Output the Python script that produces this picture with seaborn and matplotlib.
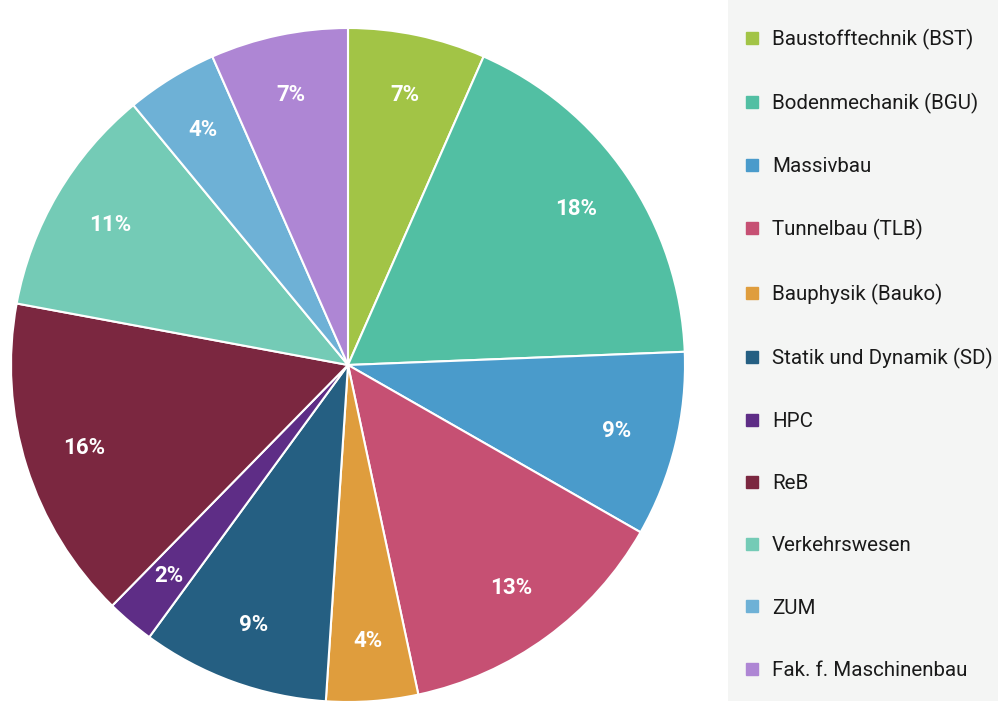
import matplotlib
matplotlib.use("Agg")
import matplotlib.pyplot as plt
import seaborn as sns
from matplotlib.lines import Line2D

sns.set_theme(style="white")
plt.rcParams['font.family'] = ['Roboto', 'DejaVu Sans']

categories = ["Baustofftechnik (BST)", "Bodenmechanik (BGU)", "Massivbau", "Tunnelbau (TLB)",
              "Bauphysik (Bauko)", "Statik und Dynamik (SD)", "HPC", "ReB",
              "Verkehrswesen", "ZUM", "Fak. f. Maschinenbau"]
values = [6.6, 17.8, 8.9, 13.4, 4.4, 9.0, 2.3, 15.6, 11.1, 4.4, 6.6]
colors = ["#a2c446", "#52bfa3", "#4a9bcb", "#c65073", "#df9d3d", "#255f82",
          "#5e2d86", "#7b2740", "#74cbb6", "#6eb1d6", "#ae86d4"]
palette = sns.color_palette(colors)

W, H = 998, 701
fig = plt.figure(figsize=(W / 100, H / 100), dpi=100)
fig.patch.set_facecolor("white")

# legend panel background
lax = fig.add_axes([728 / W, 0, 270 / W, 1])
lax.set_facecolor("#f4f5f4")
lax.set_xticks([]); lax.set_yticks([])
for s in lax.spines.values():
    s.set_visible(False)

ax = fig.add_axes([11 / W, (H - 702) / H, 674 / W, 674 / H])
wedges, texts, autotexts = ax.pie(
    values, colors=palette, startangle=90, counterclock=False,
    autopct=lambda p: f"{p:.0f}%", pctdistance=0.82,
    wedgeprops=dict(edgecolor="white", linewidth=1.5),
    textprops=dict(color="white", fontsize=16, fontweight="bold"))
ax.set_xlim(-1, 1)
ax.set_ylim(-1, 1)
ax.set_aspect("equal")

fs = 14.8
handles = [Line2D([0], [0], marker="s", linestyle="none", markersize=8,
                  markerfacecolor=c, markeredgecolor=c) for c in palette]
leg = fig.legend(handles, categories, loc="upper left",
                 bbox_to_anchor=(743.3 / W, (H - 28.6) / H),
                 bbox_transform=fig.transFigure,
                 frameon=False, fontsize=fs, handlelength=0.8, handletextpad=0.6,
                 labelspacing=2.1, borderpad=0, borderaxespad=0)
for t in leg.get_texts():
    t.set_color("#1a1a1a")

fig.savefig("out.png", dpi=100)
